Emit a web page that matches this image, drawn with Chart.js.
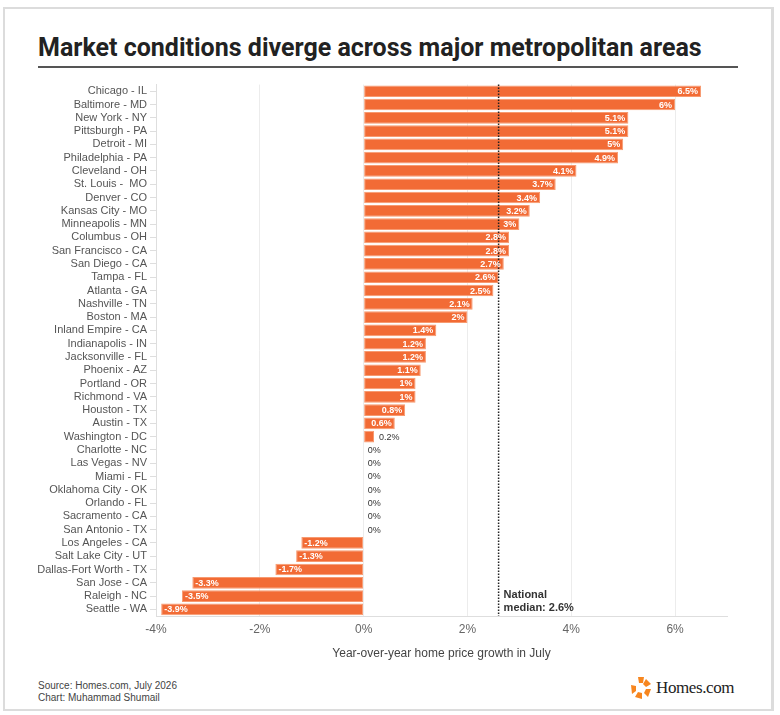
<!DOCTYPE html>
<html>
<head>
<meta charset="utf-8">
<script src="https://cdn.jsdelivr.net/npm/chart.js@4.4.1/dist/chart.umd.min.js"></script>
<style>
  html, body { margin: 0; padding: 0; background: #fff; }
  body { width: 780px; height: 715px; position: relative; overflow: hidden; font-family: "Liberation Sans", Arial, sans-serif; }
  .frame { position: absolute; left: 3px; top: 7px; width: 766px; height: 700px; border: 2px solid #dcdcdc; border-right-width: 3px; }
  h1 { position: absolute; left: 38px; top: 33px; margin: 0; font-family: Roboto, "Liberation Sans", sans-serif; font-weight: 700; font-size: 25px; color: #222; white-space: nowrap; }
  .rule { position: absolute; left: 38px; top: 66px; width: 700px; height: 2px; background: #555; }
  .chartbox { position: absolute; left: 0; top: 75px; width: 780px; height: 590px; }
  .foot { position: absolute; left: 38px; top: 680px; font-size: 10px; line-height: 12px; color: #444; }
  .logo { position: absolute; left: 630px; top: 676px; display: flex; align-items: center; }
  .logo span { font-family: "Liberation Serif", "DejaVu Serif", serif; font-size: 17px; color: #222; margin-left: 4px; letter-spacing: -0.4px; }
</style>
</head>
<body>
<div class="frame"></div>
<h1>Market conditions diverge across major metropolitan areas</h1>
<div class="rule"></div>
<div class="chartbox"><canvas id="myChart"></canvas></div>
<div class="foot">Source: Homes.com, July 2026<br>Chart: Muhammad Shumail</div>
<div class="logo">
  <svg width="22" height="24" viewBox="0 0 22 24">
    <g fill="#f7861f">
      <polygon points="8,1 14,1 13,7 9,7"/>
      <polygon points="16,3 21,8 16,11 13,8"/>
      <polygon points="21,13 18,21 14,17 16,13"/>
      <polygon points="12,23 5,21 8,16 12,17"/>
      <polygon points="2,18 1,9 6,10 6,15"/>
    </g>
  </svg>
  <span>Homes.com</span>
</div>
<script>
// metro areas, top to bottom
const metros = [
  'Chicago - IL', 'Baltimore - MD', 'New York - NY', 'Pittsburgh - PA', 'Detroit - MI',
  'Philadelphia - PA', 'Cleveland - OH', 'St. Louis -  MO', 'Denver - CO', 'Kansas City - MO',
  'Minneapolis - MN', 'Columbus - OH', 'San Francisco - CA', 'San Diego - CA', 'Tampa - FL',
  'Atlanta - GA', 'Nashville - TN', 'Boston - MA', 'Inland Empire - CA', 'Indianapolis - IN',
  'Jacksonville - FL', 'Phoenix - AZ', 'Portland - OR', 'Richmond - VA', 'Houston - TX',
  'Austin - TX', 'Washington - DC', 'Charlotte - NC', 'Las Vegas - NV', 'Miami - FL',
  'Oklahoma City - OK', 'Orlando - FL', 'Sacramento - CA', 'San Antonio - TX', 'Los Angeles - CA',
  'Salt Lake City - UT', 'Dallas-Fort Worth - TX', 'San Jose - CA', 'Raleigh - NC', 'Seattle - WA'
];
// year-over-year growth in July, %
const growth = [
  6.5, 6, 5.1, 5.1, 5,
  4.9, 4.1, 3.7, 3.4, 3.2,
  3, 2.8, 2.8, 2.7, 2.6,
  2.5, 2.1, 2, 1.4, 1.2,
  1.2, 1.1, 1, 1, 0.8,
  0.6, 0.2, 0, 0, 0,
  0, 0, 0, 0, -1.2,
  -1.3, -1.7, -3.3, -3.5, -3.9
];
const xTicks = [-4, -2, 0, 2, 4, 6];
const nationalMedian = 2.6;
const medianLabel = ['National', 'median: 2.6%'];

const barColor = '#f26b35';

// value labels at the end of each bar
const valueLabels = {
  id: 'valueLabels',
  afterDatasetsDraw(chart) {
    const ctx = chart.ctx;
    const meta = chart.getDatasetMeta(0);
    ctx.save();
    ctx.textBaseline = 'middle';
    meta.data.forEach((bar, i) => {
      const v = growth[i];
      const txt = v + '%';
      ctx.font = 'bold 9px "Liberation Sans", Arial, sans-serif';
      const w = ctx.measureText(txt).width;
      const len = Math.abs(bar.x - bar.base);
      if (len > w + 6) {
        ctx.fillStyle = '#fff';
        if (v >= 0) { ctx.textAlign = 'right'; ctx.fillText(txt, bar.x - 3, bar.y + 0.5); }
        else { ctx.textAlign = 'left'; ctx.fillText(txt, bar.x + 3, bar.y + 0.5); }
      } else {
        ctx.font = '9px "Liberation Sans", Arial, sans-serif';
        ctx.fillStyle = '#333';
        ctx.textAlign = 'left';
        ctx.fillText(txt, bar.x + (v > 0 ? 5 : 4), bar.y + 0.5);
      }
    });
    ctx.restore();
  }
};

// dotted national median line
const medianLine = {
  id: 'medianLine',
  afterDatasetsDraw(chart) {
    const ctx = chart.ctx;
    const x = chart.scales.x.getPixelForValue(nationalMedian);
    const { top, bottom } = chart.chartArea;
    ctx.save();
    ctx.strokeStyle = '#222';
    ctx.lineWidth = 1.5;
    ctx.setLineDash([1.5, 1.5]);
    ctx.beginPath();
    ctx.moveTo(x, top);
    ctx.lineTo(x, bottom);
    ctx.stroke();
    ctx.setLineDash([]);
    ctx.fillStyle = '#333';
    ctx.font = 'bold 11px "Liberation Sans", Arial, sans-serif';
    ctx.textAlign = 'left';
    ctx.textBaseline = 'middle';
    ctx.fillText(medianLabel[0], x + 5, bottom - 21);
    ctx.fillText(medianLabel[1], x + 5, bottom - 8);
    ctx.restore();
  }
};

const ctx = document.getElementById('myChart').getContext('2d');
new Chart(ctx, {
  type: 'bar',
  data: {
    labels: metros,
    datasets: [{
      data: growth,
      backgroundColor: barColor,
      borderColor: '#f79a70',
      borderWidth: 1,
      borderSkipped: false,
      barPercentage: 0.88,
      categoryPercentage: 1
    }]
  },
  options: {
    indexAxis: 'y',
    responsive: true,
    maintainAspectRatio: false,
    animation: false,
    layout: { padding: { top: 7, right: 53, left: 0, bottom: 0 } },
    plugins: { legend: { display: false }, tooltip: { enabled: false } },
    scales: {
      x: {
        min: -4,
        max: 7,
        afterBuildTicks(scale) { scale.ticks = xTicks.map(v => ({ value: v })); },
        afterFit(scale) { scale.height = 49; },
        grid: { color: '#ececec', drawTicks: false },
        border: { color: '#dedede' },
        ticks: {
          padding: 6,
          color: '#666',
          font: { size: 12, family: '"Liberation Sans", Arial, sans-serif' },
          callback: v => v + '%'
        },
        title: {
          display: true,
          text: 'Year-over-year home price growth in July',
          color: '#444',
          font: { size: 12, family: '"Liberation Sans", Arial, sans-serif' }
        }
      },
      y: {
        afterFit(scale) { scale.width = 156; },
        grid: { drawOnChartArea: false, offset: false, tickLength: 6, color: '#dedede' },
        border: { color: '#dedede' },
        ticks: {
          padding: 3,
          color: '#555',
          autoSkip: false,
          font: { size: 11, family: '"Liberation Sans", Arial, sans-serif' }
        }
      }
    }
  },
  plugins: [medianLine, valueLabels]
});
</script>
</body>
</html>
